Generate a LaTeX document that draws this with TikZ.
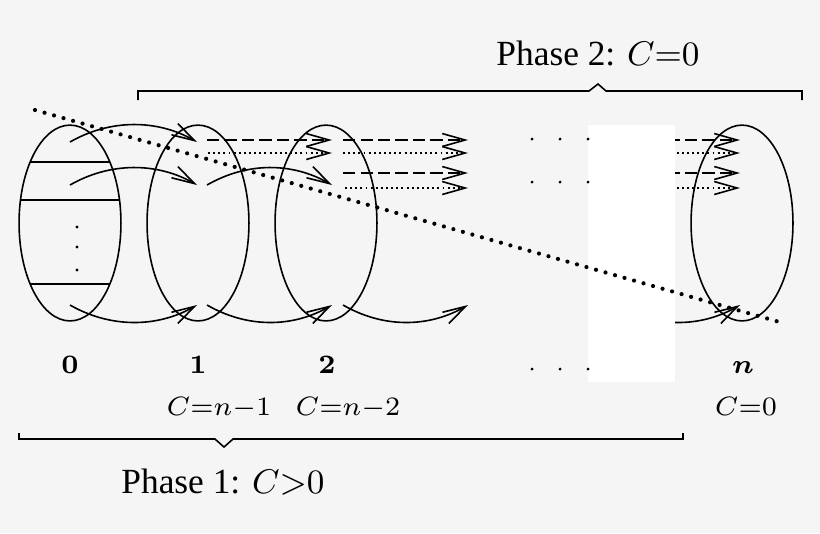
\documentclass[tikz,border=0pt]{standalone}
\usepackage[no-math]{fontspec}
\setmainfont{Liberation Serif}
\usepackage{amsmath, amssymb}
\usetikzlibrary{arrows.meta, shapes.geometric}
\definecolor{paper}{HTML}{F5F5F5}

\begin{document}
\begin{tikzpicture}[x=0.263pt, y=-0.263pt, line width=0.42pt,
    >={Straight Barb[length=6pt, width=3.4pt]},
    stage/.style={draw, ellipse, inner sep=0pt, outer sep=0pt,
      minimum width=26.8pt, minimum height=51.5pt},
    dashrow/.style={->, dash pattern=on 3.2pt off 1.4pt},
    dotrow/.style={->, dash pattern=on 0.5pt off 0.85pt},
    cut/.style={line width=1.1pt, line cap=round, dash pattern=on 0pt off 2.6pt},
    num/.style={anchor=base, font=\fontsize{7.4}{9}\selectfont},
    phase/.style={anchor=base, font=\fontsize{9.3}{12}\selectfont}]
    \useasboundingbox[fill=paper] (0,0) rectangle (820,533);

    \node[stage](0) at (70,223) {};
    \node[stage](1) at (198,223) {};
    \node[stage](2) at (326,223) {};
    \node[stage](n) at (742,223) {};
    \draw (0.123)--(0.57) (0.155)--(0.25) (0.237)--(0.303);
    \foreach \y in {227,247,270} \fill (77,\y) circle[radius=0.42pt];

    \foreach \a/\b/\y/\h [count=\i] in {70/197/142/-23, 70/197/185/-23, 207/332/185/-23,
        70/197/305/23, 207/332/305/23, 343/468/305/23, 615/740/305/23}{
      \coordinate (cs\i) at (\a,\y);
      \coordinate (ce\i) at (\b,\y);
      \draw[->] (cs\i) .. controls +(40,\h) and +(-40,\h) .. (ce\i);
    }
    \foreach \a/\b/\y [count=\i] in {207/332/140, 343/468/140, 615/740/140,
        343/468/173, 615/740/173}{
      \coordinate (ds\i) at (\a,\y);
      \coordinate (de\i) at (\b,\y);
      \draw[dashrow] (ds\i) -- (de\i);
    }
    \foreach \a/\b/\y [count=\i] in {208/332/153, 343/468/153, 615/740/153,
        345/468/188, 615/740/188}{
      \coordinate (ps\i) at (\a,\y);
      \coordinate (pe\i) at (\b,\y);
      \draw[dotrow] (ps\i) -- (pe\i);
    }

    \fill[white] (588,125) rectangle (675,382);
    \foreach \y in {139,182,369}
      \foreach \x in {532,560,588} \fill (\x,\y) circle[radius=0.4pt];

    \coordinate (cut0) at (35,110);
    \coordinate (cut1) at (783,323);
    \draw[cut] (cut0) -- (cut1);

    \node[num](l0) at (70,373) {$\mathbf{0}$};
    \node[num](l1) at (198,373) {$\mathbf{1}$};
    \node[num](l2) at (327,373) {$\mathbf{2}$};
    \node[num](ln) at (743,373) {$\boldsymbol{n}$};
    \node[num](c1) at (219,415) {$C{=}n{-}1$};
    \node[num](c2) at (348,415) {$C{=}n{-}2$};
    \node[num](cn) at (746,415) {$C{=}0$};

    \draw (138,100) -- (138,91) -- (589,91) -- (598,84) -- (606,91) -- (802,91) -- (802,100);
    \node[phase](p2) at (598,65) {Phase 2: $C{=}0$};
    \draw (19,433) -- (19,439) -- (215,439) -- (224,447) -- (233,439) -- (683,439) -- (683,433);
    \node[phase](p1) at (223,493) {Phase 1: $C{>}0$};
\end{tikzpicture}
\end{document}
